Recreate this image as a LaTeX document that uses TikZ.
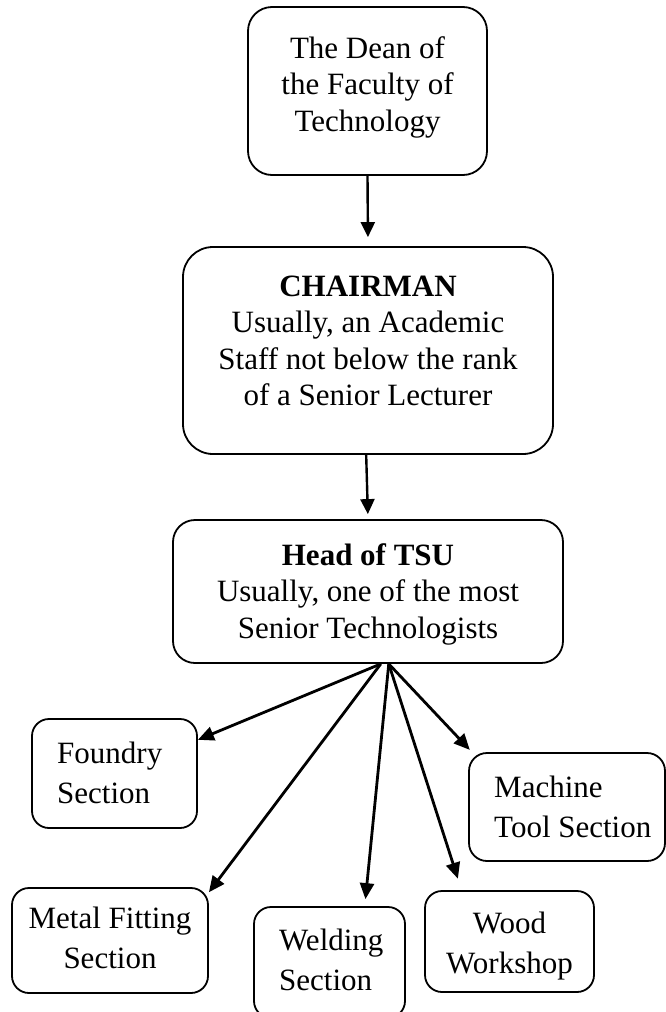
\documentclass[tikz,border=0pt]{standalone}
\usepackage{fontspec}
\setmainfont{Liberation Serif}
\usetikzlibrary{arrows.meta}
\newcommand{\bigtxt}{\fontsize{31}{36.5}\selectfont}
\newcommand{\smalltxt}{\fontsize{31}{40}\selectfont}
\tikzset{
  box/.style={draw, line width=1.8pt, inner sep=0pt, rounded corners=#1},
  txt/.style={inner sep=0pt, anchor=north, align=center, font=\bigtxt},
  stxt/.style={inner sep=0pt, anchor=north, align=center, font=\smalltxt},
  ltxt/.style={inner sep=0pt, anchor=north west, align=left, font=\smalltxt},
  arr/.style={line width=2.4pt, -{Triangle[length=15pt,width=14pt]}},
  arrb/.style={line width=2.8pt, -{Triangle[length=16pt,width=14pt]}}
}
\begin{document}
\begin{tikzpicture}[x=1pt, y=-1pt]
\useasboundingbox (0,0) rectangle (666,1012);
\clip (0,0) rectangle (666,1012);
% boxes
\node[box=24pt, minimum width=239pt, minimum height=168pt] (dean)  at (367.5,91) {};
\node[box=30pt, minimum width=370pt, minimum height=207pt] (chair) at (368,350.5) {};
\node[box=22pt, minimum width=390pt, minimum height=143pt] (head)  at (368,591.5) {};
\node[box=17pt, minimum width=165pt, minimum height=109pt] (found) at (114.5,773.5) {};
\node[box=18pt, minimum width=196pt, minimum height=108pt] (mach)  at (567,807) {};
\node[box=17pt, minimum width=196pt, minimum height=105pt] (metal) at (110,940.5) {};
\node[box=17pt, minimum width=151pt, minimum height=111pt] (weld)  at (329.5,962.5) {};
\node[box=17pt, minimum width=169pt, minimum height=101pt] (wood)  at (509.5,941.5) {};
% texts
\node[txt] (deant) at (367.5,32.45) {\strut The Dean of\\the Faculty of\\Technology};
\node[txt] (chairt) at (368,270.45) {\strut\textbf{CHAIRMAN}\\Usually, an Academic\\Staff not below the rank\\of a Senior Lecturer};
\node[txt] (headt) at (368,539.45) {\strut\textbf{Head of TSU}\\Usually, one of the most\\Senior Technologists};
\node[ltxt] (foundt) at (57,735) {\strut Foundry\\Section};
\node[ltxt] (macht) at (494,769) {\strut Machine\\Tool Section};
\node[stxt] (metalt) at (110,900) {\strut Metal Fitting\\Section};
\node[ltxt] (weldt) at (279,922) {\strut Welding\\Section};
\node[stxt] (woodt) at (509.5,905) {\strut Wood\\Workshop};
% connectors
\draw[arr, shorten >=9pt] (dean.south) -- (chair.north);
\draw[arr, shorten >=5pt] (chair.-91) -- (head.north);
\draw[arrb] (head.-80) -- (found.22);
\draw[arrb] (head.-80) -- (metal.26);
\draw[arrb, shorten >=7pt] (head.-74) -- (weld.58);
\draw[arrb, shorten >=12pt] (head.-74) -- (wood.133);
\draw[arrb, shorten >=3pt] (head.-74) -- (mach.150);
\end{tikzpicture}
\end{document}
